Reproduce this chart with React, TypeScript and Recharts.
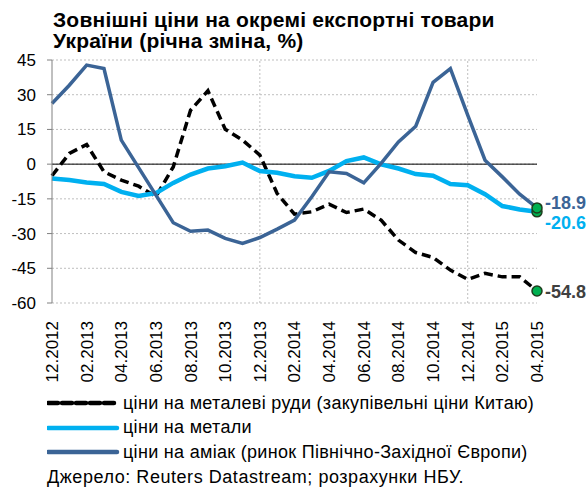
import { CartesianGrid, Line, LineChart, ReferenceLine, XAxis, YAxis } from 'recharts';

const FONT = 'Arial, "Liberation Sans", sans-serif';
const ORE = '#000000';
const METAL = '#00b0f0';
const AMMONIA = '#3b6496';
const GRID = '#bfbfbf';

const months = [
  '12.2012', '01.2013', '02.2013', '03.2013', '04.2013', '05.2013', '06.2013', '07.2013',
  '08.2013', '09.2013', '10.2013', '11.2013', '12.2013', '01.2014', '02.2014', '03.2014',
  '04.2014', '05.2014', '06.2014', '07.2014', '08.2014', '09.2014', '10.2014', '11.2014',
  '12.2014', '01.2015', '02.2015', '03.2015', '04.2015',
];

// ціни на металеві руди
const ore = [
  -5, 4.6, 8.5, -3.3, -6.9, -9.5, -14, -1.2, 23.3, 31.7, 15.1, 10.4, 3.9, -12.7, -21.6,
  -20.6, -17.3, -20.9, -19.4, -24.2, -32.8, -38.2, -40.3, -45.8, -49.8, -47.2, -48.7, -48.7, -54.8,
];
// ціни на метали
const metals = [
  -6.2, -6.9, -7.9, -8.6, -12, -13.7, -12.5, -8.1, -4.5, -1.9, -0.9, 0.7, -3, -3.7, -5.2,
  -5.9, -2.9, 1.3, 2.9, -0.1, -1.9, -4.3, -5, -8.6, -9.1, -13, -18.1, -19.6, -20.6,
];
// ціни на аміак
const ammonia = [
  26.2, 34.1, 42.8, 41.3, 10.4, -1.5, -13.4, -25.3, -29, -28.5, -32.1, -34.3, -31.7, -28.1, -24.2,
  -14.1, -3.3, -4, -8.1, 0.3, 9.6, 16.4, 35.3, 41.3, 21.2, 1.7, -5.5, -13, -18.9,
];

const yTicks = [-60, -45, -30, -15, 0, 15, 30, 45];

const data = months.map((m, i) => ({ m, ore: ore[i], metals: metals[i], ammonia: ammonia[i] }));
const last = months.length - 1;

const MonthTick = (props: any) => {
  const { x, y, payload } = props;
  return (
    <text
      x={x}
      y={y}
      transform={`rotate(-90 ${x} ${y})`}
      textAnchor="end"
      dy="0.35em"
      fontSize={17}
      fontFamily={FONT}
      fill="#000"
    >
      {payload.value}
    </text>
  );
};

const endDot = (color: string, dy: number) => (props: any) => {
  const { cx, cy, index, value } = props;
  if (index !== last) return <g key={`d${index}`} />;
  return (
    <g key={`d${index}`}>
      <circle cx={cx} cy={cy} r={5} fill="#00b050" stroke="#1d3d1d" strokeWidth={1.5} />
      <text
        x={cx + 8}
        y={cy + dy}
        dy="0.35em"
        fontSize={18}
        fontWeight="bold"
        fontFamily={FONT}
        fill={color}
      >
        {Array.isArray(value) ? value[1] : value}
      </text>
    </g>
  );
};

const legendItems = [
  { label: 'ціни на металеві руди (закупівельні ціни Китаю)', color: ORE, dash: '10 4' },
  { label: 'ціни на метали', color: METAL, dash: undefined },
  { label: 'ціни на аміак (ринок Північно-Західної Європи)', color: AMMONIA, dash: undefined },
];

export default function App() {
  return (
    <div style={{ position: 'absolute', left: 0, top: 0, width: 588, height: 488, background: '#fff', fontFamily: FONT }}>
      <div
        style={{
          position: 'absolute',
          left: 53,
          top: 9,
          fontSize: 21,
          lineHeight: '21px',
          fontWeight: 'bold',
          letterSpacing: 0.2,
          color: '#000',
          zIndex: 2,
        }}
      >
        Зовнішні ціни на окремі експортні товари
        <br />
        України (річна зміна, %)
      </div>
      <LineChart width={588} height={488} data={data} margin={{ top: 60, right: 51, left: 0, bottom: 0 }}>
        <CartesianGrid vertical={false} stroke={GRID} strokeDasharray="2 2" />
        <ReferenceLine x="12.2013" stroke={GRID} strokeDasharray="2 2" />
        <ReferenceLine x="12.2014" stroke={GRID} strokeDasharray="2 2" />
        <ReferenceLine y={0} stroke="#000" strokeWidth={1} />
        <XAxis
          dataKey="m"
          interval={1}
          height={185}
          axisLine={false}
          tickLine={false}
          tickMargin={12}
          tick={<MonthTick />}
        />
        <YAxis
          width={52}
          domain={[-60, 45]}
          ticks={yTicks}
          interval={0}
          axisLine={{ stroke: '#808080' }}
          tickLine={{ stroke: '#808080' }}
          tickSize={5}
          tickMargin={11}
          tick={{ fill: '#000', fontSize: 17, fontFamily: FONT }}
        />
        <Line
          dataKey="ore"
          stroke={ORE}
          strokeWidth={3.5}
          strokeDasharray="9 5"
          dot={endDot('#404040', 1)}
          activeDot={false}
          isAnimationActive={false}
        />
        <Line
          dataKey="metals"
          stroke={METAL}
          strokeWidth={4.5}
          dot={endDot(METAL, 11)}
          activeDot={false}
          isAnimationActive={false}
        />
        <Line
          dataKey="ammonia"
          stroke={AMMONIA}
          strokeWidth={3.5}
          dot={endDot(AMMONIA, -5)}
          activeDot={false}
          isAnimationActive={false}
        />
      </LineChart>
      <div style={{ position: 'absolute', left: 47, top: 391, fontSize: 18, color: '#000' }}>
        {legendItems.map((it) => (
          <div key={it.label} style={{ display: 'flex', alignItems: 'center', height: 24.5, whiteSpace: 'nowrap' }}>
            <svg width={76} height={10}>
              <line x1={1} y1={5} x2={70} y2={5} stroke={it.color} strokeWidth={4.5} strokeDasharray={it.dash} strokeLinecap="round" />
            </svg>
            <span style={{ letterSpacing: 0.3 }}>{it.label}</span>
          </div>
        ))}
        <div style={{ lineHeight: '24px', whiteSpace: 'nowrap', letterSpacing: 0.55 }}>
          Джерело: Reuters Datastream; розрахунки НБУ.
        </div>
      </div>
    </div>
  );
}
